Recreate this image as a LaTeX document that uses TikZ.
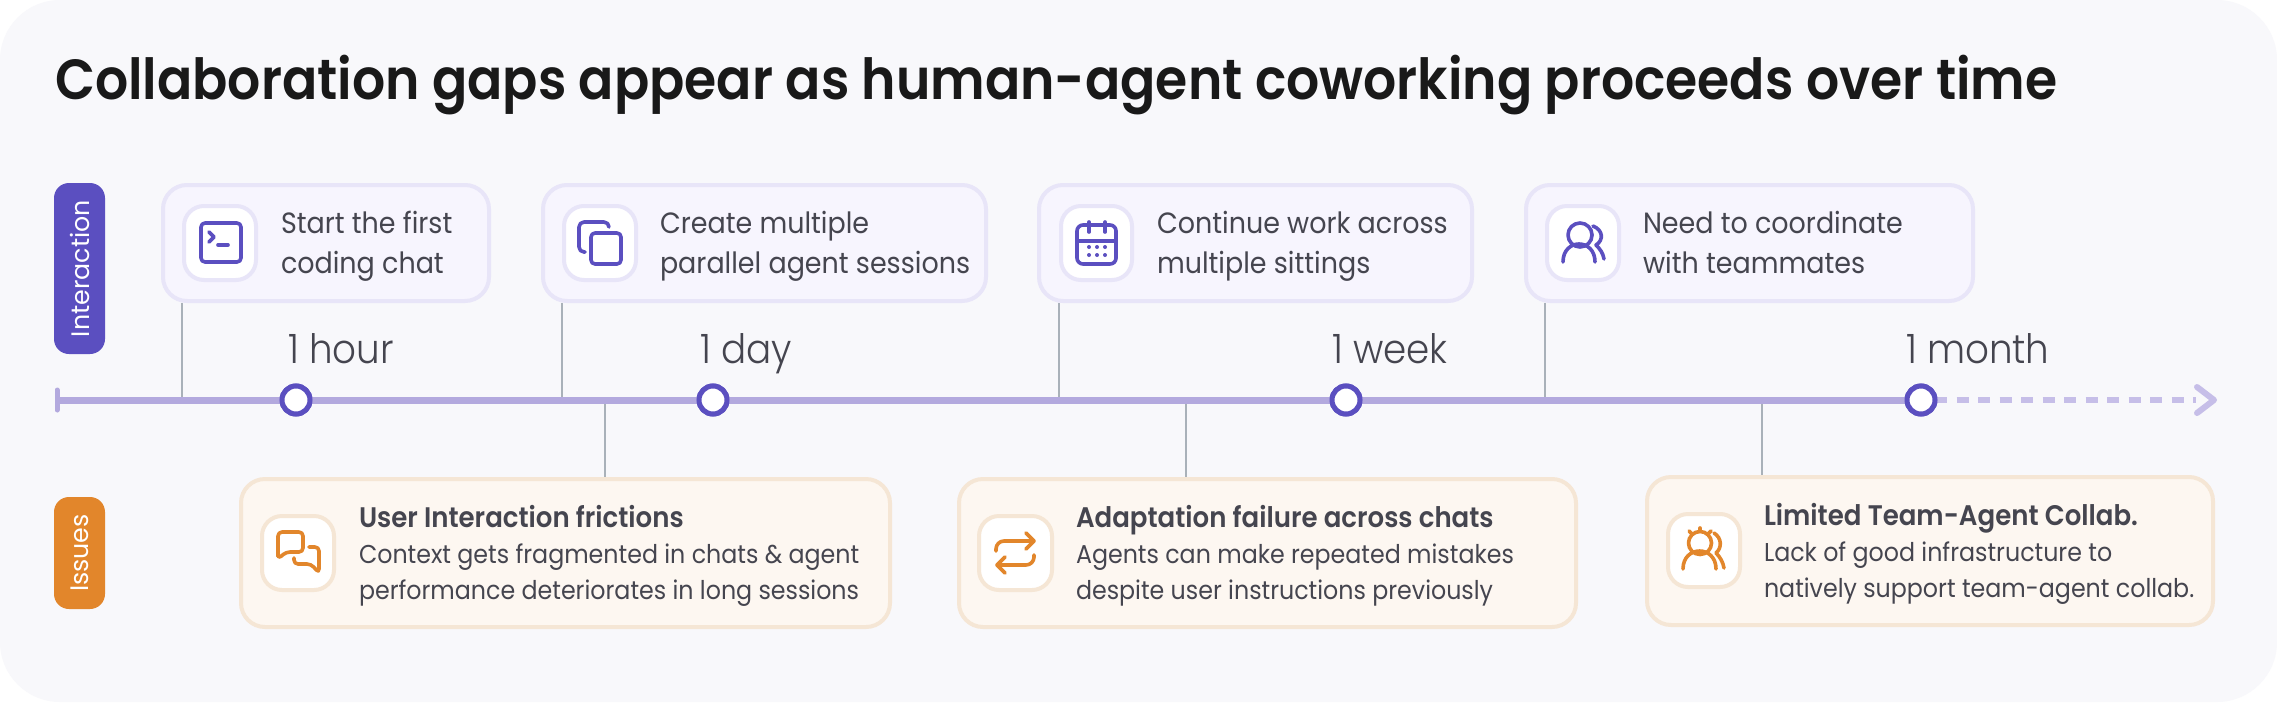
\documentclass[tikz,border=0pt]{standalone}
\usepackage{fontspec}
\setmainfont{Poppins}
\newfontfamily\lightfont{Poppins Light}[FakeStretch=0.92]
\newfontfamily\semifont{Poppins SemiBold}[FakeStretch=0.92]
\newfontfamily\bodyfont{Poppins}[FakeStretch=0.92]
\definecolor{pagebg}{HTML}{F8F8FB}
\definecolor{vio}{HTML}{5B4FC0}
\definecolor{axisc}{HTML}{B3A9DE}
\definecolor{dashc}{HTML}{C6BEE8}
\definecolor{org}{HTML}{E2862B}
\definecolor{txt}{HTML}{45454F}
\definecolor{connc}{HTML}{A9B1B9}
\definecolor{vfill}{HTML}{F7F5FE}
\definecolor{vline}{HTML}{E8E5F8}
\definecolor{ofill}{HTML}{FDF7F1}
\definecolor{oline}{HTML}{F5E6D5}
\newcommand{\bx}[6]{%
  \pgfmathsetmacro{\bw}{#4-#2}\pgfmathsetmacro{\bh}{#5-#3}%
  \pgfmathsetmacro{\bcx}{(#4+#2)/2}\pgfmathsetmacro{\bcy}{(#5+#3)/2}%
  \node[#6,minimum width=\bw pt,minimum height=\bh pt] (#1) at (\bcx,\bcy) {};}
\newcommand{\hd}[1]{{\fontsize{28.3}{36}\semifont #1}}
\tikzset{
  x=1pt,y=-1pt,
  vcard/.style={draw=vline,fill=vfill,line width=4pt,rounded corners=24pt,inner sep=0pt,outer sep=2pt},
  ocard/.style={draw=oline,fill=ofill,line width=4pt,rounded corners=24pt,inner sep=0pt,outer sep=2pt},
  vicon/.style={draw=vline,fill=white,line width=4pt,rounded corners=20pt,inner sep=0pt,outer sep=2pt},
  oicon/.style={draw=oline,fill=white,line width=4pt,rounded corners=20pt,inner sep=0pt,outer sep=2pt},
  pill/.style={rounded corners=15pt,inner sep=0pt,outer sep=0pt},
  body/.style={text=txt,inner sep=0pt,outer sep=0pt,anchor=base west,align=left,font=\fontsize{29.3}{39.5}\bodyfont},
  issue/.style={text=txt,inner sep=0pt,outer sep=0pt,anchor=base west,align=left,font=\fontsize{25.8}{36}\bodyfont},
  tlabel/.style={text=txt,inner sep=0pt,outer sep=0pt,anchor=base west,font=\fontsize{40.5}{44}\lightfont},
  conn/.style={draw=connc,line width=2pt},
  tick/.style={circle,draw=vio,fill=white,line width=5pt,minimum size=28pt,inner sep=0pt,outer sep=0pt},
  vglyph/.style={draw=vio,line width=3.6pt,line cap=round,line join=round},
  oglyph/.style={draw=org,line width=3.6pt,line cap=round,line join=round},
  pilltext/.style={text=white,rotate=90,inner sep=0pt,font=\fontsize{25.3}{30}\selectfont},
}
\begin{document}
\begin{tikzpicture}
\useasboundingbox (0,0) rectangle (2277,702);
\fill[white] (0,0) rectangle (2277,702);
\fill[pagebg,rounded corners=60pt] (0,0) rectangle (2277,702);
\node[anchor=base west,inner sep=0pt,text=black!90,font=\fontsize{56.6}{70}\semifont] (title) at (55,99) {Collaboration gaps appear as human-agent coworking proceeds over time};
% pills
\bx{pI}{54}{183}{105}{354}{pill,fill=vio}
\node[pilltext] (pIt) at (pI.center) {Interaction};
\bx{pS}{54}{497}{105}{609}{pill,fill=org}
\node[pilltext] (pSt) at (pS.center) {Issues};
% cards
\bx{c1}{163}{185}{489}{301}{vcard}
\bx{c2}{543}{185}{986}{301}{vcard}
\bx{c3}{1039}{185}{1472}{301}{vcard}
\bx{c4}{1526}{185}{1973}{301}{vcard}
\bx{i1}{184}{206}{256}{280}{vicon}
\bx{i2}{564}{206}{636}{280}{vicon}
\bx{i3}{1061}{206}{1132}{280}{vicon}
\bx{i4}{1547}{206}{1619}{280}{vicon}
\bx{d1}{241}{479}{890}{627}{ocard}
\bx{d2}{959}{479}{1576}{627}{ocard}
\bx{d3}{1647}{477}{2213}{625}{ocard}
\bx{j1}{262}{516}{334}{590}{oicon}
\bx{j2}{979}{516}{1052}{590}{oicon}
\bx{j3}{1668}{514}{1740}{587}{oicon}
% axis
\coordinate (ax0) at (57,400);
\coordinate (axE) at (2196,400);
\coordinate (axT) at (2214,400);
\node[tick] (t1) at (296,400) {};
\node[tick] (t2) at (713,400) {};
\node[tick] (t3) at (1346,400) {};
\node[tick] (t4) at (1921,400) {};
% connectors
\draw[conn] (c1.south -| i1.west) -- (i1.west |- ax0);
\draw[conn] (c2.south -| i2.west) -- (i2.west |- ax0);
\draw[conn] (c3.south -| i3.west) -- (i3.west |- ax0);
\draw[conn] (c4.south -| i4.west) -- (i4.west |- ax0);
\coordinate (q1) at (605,400);
\coordinate (q2) at (1186,400);
\coordinate (q3) at (1762,400);
\draw[conn] (q1) -- (q1 |- d1.north);
\draw[conn] (q2) -- (q2 |- d2.north);
\draw[conn] (q3) -- (q3 |- d3.north);
\draw[axisc,line width=7pt] (ax0) -- (t4);
\draw[axisc,line width=5pt,line cap=round] ([yshift=10pt]ax0) -- ([yshift=-10pt]ax0);
\draw[dashc,line width=6pt,dash pattern=on 12pt off 9.5pt] (t4.east) -- (axE);
\draw[dashc,line width=6pt,line cap=round,line join=round] (2197,387) -- (axT) -- (2197,413);
\node[tick] at (t1) {};
\node[tick] at (t2) {};
\node[tick] at (t3) {};
\node[tick] at (t4) {};
% axis labels
\node[tlabel] (l1) at (288,363) {1 hour};
\node[tlabel] (l2) at (700,363) {1 day};
\node[tlabel] (l3) at (1332,363) {1 week};
\node[tlabel] (l4) at (1906,363) {1 month};
% card text
\node[body] (x1) at (281,273) {Start the first\\coding chat};
\node[body] (x2) at (660,273) {Create multiple\\parallel agent sessions};
\node[body] (x3) at (1157,273) {Continue work across\\multiple sittings};
\node[body] (x4) at (1643,273) {Need to coordinate\\with teammates};
\node[issue] (y1) at (359,599) {\hd{User Interaction frictions}\\Context gets fragmented in chats \& agent\\performance deteriorates in long sessions};
\node[issue] (y2) at (1076,599) {\hd{Adaptation failure across chats}\\Agents can make repeated mistakes\\despite user instructions previously};
\node[issue] (y3) at (1764,597) {\hd{Limited Team-Agent Collab.}\\Lack of good infrastructure to\\natively support team-agent collab.};
% terminal
\draw[vglyph,rounded corners=4pt] (201,223) rectangle (241,262);
\draw[vglyph] (209,232) -- (214,237) -- (209,242);
\draw[vglyph] (218,245) -- (228,245);
% copy
\draw[vglyph,rounded corners=4pt] (591,233) rectangle (621,264);
\draw[vglyph,rounded corners=5pt] (609,227) -- (609,222) -- (579,222) -- (579,252) -- (585,252);
% calendar
\draw[vglyph,rounded corners=6pt] (1077,225) rectangle (1116,264);
\draw[vglyph] (1077,241) -- (1116,241);
\draw[vglyph] (1089,222) -- (1089,232);
\draw[vglyph] (1105,222) -- (1105,232);
\foreach \px in {1089,1097,1105} \foreach \py in {247,255} \fill[vio] (\px,\py) circle (2pt);
% people
\draw[vglyph] (1580,235) circle (12pt);
\draw[vglyph] (1563,262) .. controls (1563,238) and (1595,238) .. (1595,262);
\draw[vglyph] (1593,226) .. controls (1603,230) and (1604,240) .. (1596,245) .. controls (1600,249) and (1603,253) .. (1604,259);
% chat
\draw[oglyph,rounded corners=4pt] (278,559) -- (278,532) -- (303,532) -- (303,552) -- (286,552) -- (278,559) -- cycle;
\draw[oglyph,rounded corners=4pt] (309,547) -- (319,547) -- (319,573) -- (311,564) -- (294,564) -- (294,558);
% arrows
\draw[oglyph,rounded corners=8pt] (996,551) -- (996,541) -- (1034,541);
\draw[oglyph] (1026,533) -- (1034,541) -- (1026,549);
\draw[oglyph,rounded corners=8pt] (1034,555) -- (1034,565) -- (997,565);
\draw[oglyph] (1005,557) -- (997,565) -- (1005,573);
% crown people
\draw[oglyph] (1700,543) circle (11.5pt);
\draw[oglyph] (1683,569) .. controls (1683,545) and (1716,545) .. (1716,569);
\draw[oglyph] (1700,528) -- (1700,531);
\draw[oglyph] (1689,531) -- (1692,534);
\draw[oglyph] (1711,531) -- (1708,534);
\draw[oglyph] (1714,533) .. controls (1722,538) and (1722,548) .. (1716,553) .. controls (1720,557) and (1723,562) .. (1724,568);
\end{tikzpicture}
\end{document}
